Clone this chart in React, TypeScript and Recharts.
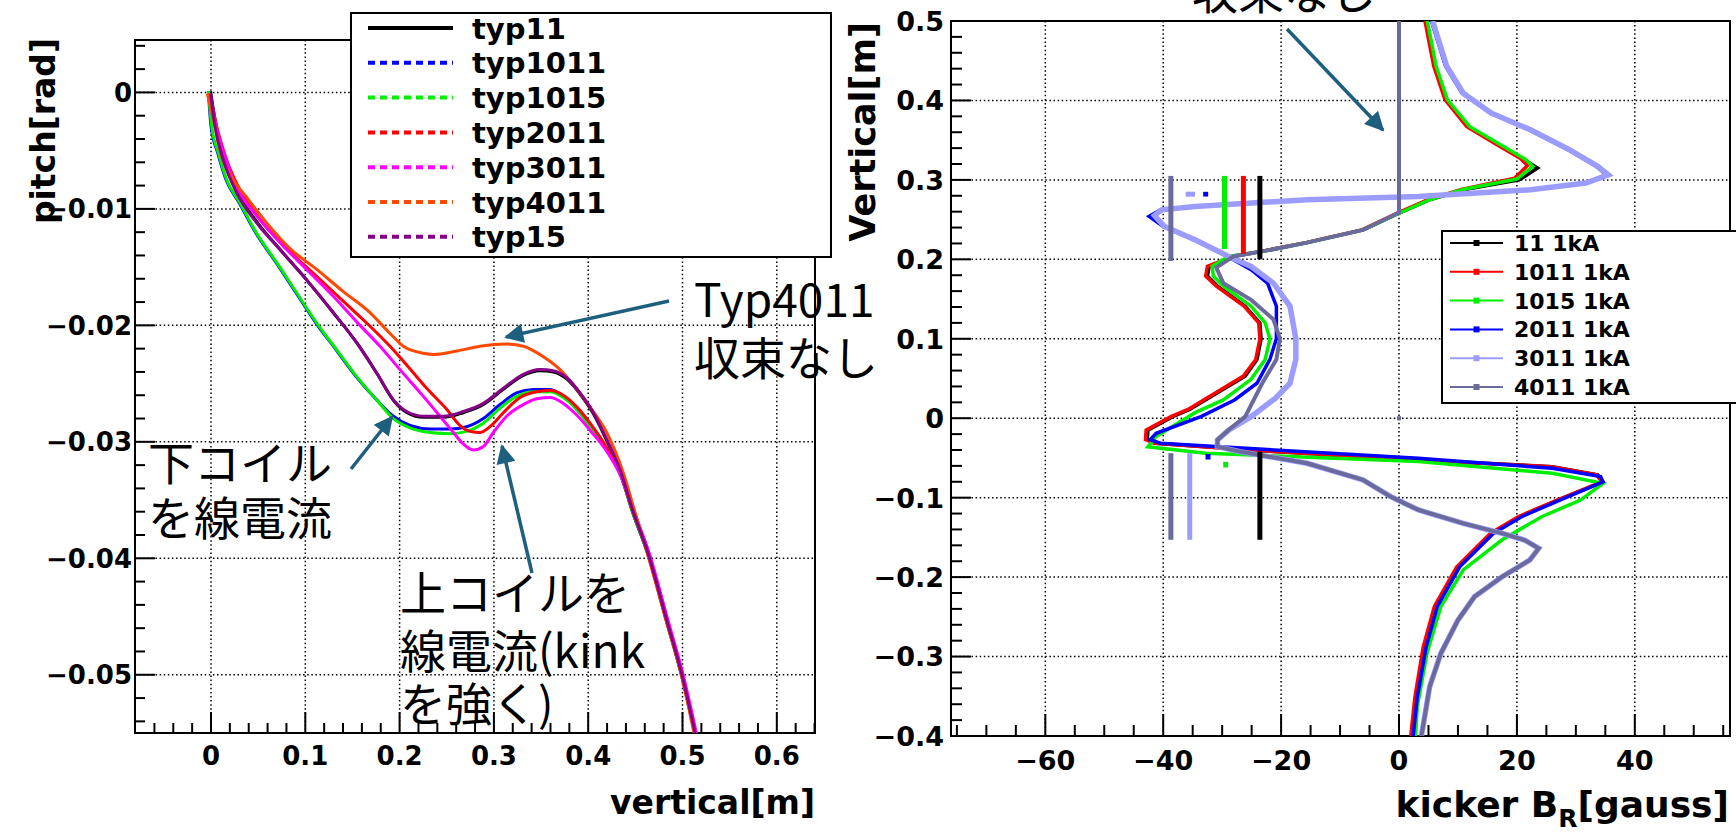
import React from 'react';
import { LineChart, Line, XAxis, YAxis, CartesianGrid, ReferenceArea, Legend } from 'recharts';

type P = [number, number];

// ---------------- LEFT CHART: pitch[rad] vs vertical[m] ----------------
const L_TYP11: P[] = [[-0.0005,0.0001],[0.0055,-0.0029],[0.0145,-0.0058],[0.0285,-0.0086],[0.0495,-0.0112],[0.0745,-0.0136],[0.1025,-0.0162],[0.1305,-0.019],[0.1555,-0.0216],[0.1765,-0.0242],[0.194,-0.0265],[0.208,-0.0275],[0.2255,-0.0279],[0.2465,-0.0279],[0.2675,-0.0275],[0.289,-0.0268],[0.31,-0.0255],[0.3312,-0.0243],[0.349,-0.0239],[0.363,-0.024],[0.3772,-0.0246],[0.3913,-0.0259],[0.4055,-0.0276],[0.4196,-0.0299],[0.4337,-0.0325],[0.447,-0.036],[0.463,-0.0396],[0.483,-0.0454],[0.4995,-0.0502],[0.5145,-0.0555]];
const L_TYP1011: P[] = [[-0.0028,0.0001],[0,-0.0029],[0.0071,-0.0052],[0.0159,-0.0075],[0.03,-0.0095],[0.0477,-0.0121],[0.0689,-0.0146],[0.0901,-0.0172],[0.1113,-0.0198],[0.1326,-0.0221],[0.1538,-0.0244],[0.1757,-0.0264],[0.1934,-0.0278],[0.211,-0.0286],[0.2322,-0.0289],[0.2535,-0.0289],[0.2711,-0.0287],[0.2888,-0.028],[0.3065,-0.0268],[0.3241,-0.0258],[0.3418,-0.0255],[0.3595,-0.0255],[0.3736,-0.0261],[0.3878,-0.0272],[0.4019,-0.0286],[0.4196,-0.0307],[0.4337,-0.0327],[0.447,-0.036],[0.463,-0.0395],[0.483,-0.0453],[0.4993,-0.0501],[0.5143,-0.0555]];
const L_TYP1015: P[] = [[-0.0028,0.0001],[0.0007,-0.0029],[0.0078,-0.0052],[0.0166,-0.0075],[0.0308,-0.0095],[0.0484,-0.0121],[0.0696,-0.0146],[0.0908,-0.0172],[0.1121,-0.0198],[0.1333,-0.0221],[0.1545,-0.0244],[0.1757,-0.0264],[0.1934,-0.028],[0.211,-0.0288],[0.2322,-0.0292],[0.2535,-0.0293],[0.2711,-0.0291],[0.2888,-0.0284],[0.3065,-0.0271],[0.3241,-0.0261],[0.3418,-0.0257],[0.3595,-0.0257],[0.3736,-0.0262],[0.3878,-0.0272],[0.4019,-0.0287],[0.4196,-0.0307],[0.4337,-0.0327],[0.447,-0.036],[0.463,-0.0395],[0.483,-0.0453],[0.4993,-0.0501],[0.5143,-0.0555]];
const L_TYP2011: P[] = [[-0.0011,-0.0001],[0.006,-0.0029],[0.0166,-0.0058],[0.0308,-0.0084],[0.052,-0.0109],[0.0802,-0.0134],[0.1121,-0.0158],[0.1439,-0.0182],[0.1651,-0.0198],[0.1898,-0.0218],[0.2075,-0.0234],[0.2287,-0.0254],[0.2499,-0.0272],[0.2641,-0.0286],[0.2747,-0.0291],[0.2853,-0.0292],[0.2959,-0.0287],[0.31,-0.0275],[0.3277,-0.0262],[0.3454,-0.0257],[0.3595,-0.0256],[0.3736,-0.026],[0.3878,-0.027],[0.4019,-0.0284],[0.4196,-0.0305],[0.4337,-0.0327],[0.4475,-0.036],[0.4635,-0.0395],[0.4835,-0.0453],[0.4998,-0.0501],[0.5148,-0.0555]];
const L_TYP3011: P[] = [[-0.0011,-0.0001],[0.0053,-0.0029],[0.0148,-0.0055],[0.0272,-0.0081],[0.0484,-0.0106],[0.0732,-0.0129],[0.1014,-0.0152],[0.1297,-0.0175],[0.1545,-0.0197],[0.1792,-0.0218],[0.2004,-0.0238],[0.2252,-0.0261],[0.2428,-0.0278],[0.257,-0.0292],[0.2676,-0.0302],[0.2782,-0.0307],[0.2888,-0.0304],[0.2994,-0.0292],[0.3135,-0.0278],[0.3312,-0.0268],[0.3454,-0.0263],[0.3595,-0.0262],[0.3736,-0.0267],[0.3878,-0.0277],[0.4019,-0.029],[0.4196,-0.0308],[0.4337,-0.0328],[0.4485,-0.036],[0.4645,-0.0395],[0.4845,-0.0453],[0.501,-0.0501],[0.516,-0.0555]];
const L_TYP4011: P[] = [[-0.0039,-0.0001],[0.0025,-0.0023],[0.0113,-0.0055],[0.0237,-0.0075],[0.0396,-0.0092],[0.059,-0.0112],[0.0838,-0.0134],[0.1121,-0.0152],[0.1403,-0.0171],[0.1686,-0.0189],[0.1898,-0.0207],[0.204,-0.0218],[0.2252,-0.0224],[0.2358,-0.0225],[0.2605,-0.0222],[0.2853,-0.0218],[0.3135,-0.0216],[0.3312,-0.0218],[0.3524,-0.0227],[0.3701,-0.0238],[0.3842,-0.0251],[0.4019,-0.027],[0.4196,-0.0292],[0.4373,-0.0327],[0.4495,-0.036],[0.4625,-0.0395],[0.4825,-0.0453],[0.499,-0.0501],[0.5135,-0.0555]];
const L_TYP15: P[] = [[-0.0004,-0.0001],[0.0042,-0.0029],[0.0131,-0.0058],[0.0272,-0.0086],[0.0484,-0.0112],[0.0732,-0.0135],[0.1014,-0.0161],[0.1297,-0.0189],[0.1545,-0.0215],[0.1757,-0.0241],[0.1934,-0.0264],[0.2075,-0.0274],[0.2252,-0.0278],[0.2464,-0.0278],[0.2676,-0.0274],[0.2888,-0.0267],[0.31,-0.0254],[0.3312,-0.0242],[0.3489,-0.0238],[0.363,-0.0239],[0.3772,-0.0245],[0.3913,-0.0258],[0.4055,-0.0275],[0.4196,-0.0298],[0.4337,-0.0324],[0.447,-0.0358],[0.4632,-0.0395],[0.4832,-0.0453],[0.4997,-0.0501],[0.5147,-0.0555]];

const LEFT_NAMES = ['typ11', 'typ1011', 'typ1015', 'typ2011', 'typ3011', 'typ4011', 'typ15'];
const LEFT_COLORS = ['#000000', '#0000ff', '#00ee00', '#ff0000', '#ff00ff', '#ff4800', '#880088'];
const LEFT_DATA = [L_TYP11, L_TYP1011, L_TYP1015, L_TYP2011, L_TYP3011, L_TYP4011, L_TYP15];

const LEFT_X_DOMAIN: [number, number] = [-0.0806, 0.6405];
const LEFT_Y_DOMAIN: [number, number] = [-0.055, 0.0045];
const LEFT_X_MAJOR = [0, 0.1, 0.2, 0.3, 0.4, 0.5, 0.6];
const LEFT_X_LABELS = ['0', '0.1', '0.2', '0.3', '0.4', '0.5', '0.6'];
const LEFT_Y_MAJOR = [0, -0.01, -0.02, -0.03, -0.04, -0.05];
const LEFT_Y_LABELS = ['0', '\u22120.01', '\u22120.02', '\u22120.03', '\u22120.04', '\u22120.05'];

// ---------------- RIGHT CHART: Vertical[m] vs kicker B_R[gauss] ----------------
const R_11: P[] = [[4.6,0.5],[6.1,0.443],[8.0,0.401],[11.8,0.367],[16.5,0.346],[21.3,0.325],[23.5,0.315],[20.4,0.3],[10.9,0.2875],[5.2,0.275],[0,0.258],[-6.1,0.237],[-15.6,0.221],[-23.2,0.21],[-28.0,0.204],[-30.8,0.1956],[-32.2,0.1914],[-32.5,0.179],[-30.8,0.1663],[-26.1,0.141],[-23.6,0.12],[-23.4,0.1],[-24.1,0.074],[-26.1,0.053],[-30.8,0.032],[-35.5,0.011],[-38.4,0.002],[-42.6,-0.015],[-42.7,-0.027],[-41.2,-0.0315],[-25.1,-0.04],[3.3,-0.0525],[26.0,-0.061],[33.7,-0.0714],[34.6,-0.08],[27.0,-0.103],[20.4,-0.124],[15.7,-0.145],[10.0,-0.187],[6.2,-0.237],[4.3,-0.288],[2.9,-0.351],[2.2,-0.4]];
const R_1011: P[] = [[4.4,0.5],[5.9,0.443],[7.8,0.401],[11.5,0.367],[16.2,0.346],[20.6,0.327],[21.8,0.318],[19.6,0.302],[10.6,0.288],[5.0,0.2755],[0,0.259],[-6.3,0.237],[-15.8,0.221],[-23.4,0.21],[-28.2,0.204],[-31.0,0.1956],[-32.5,0.1914],[-32.8,0.179],[-31.0,0.1663],[-26.3,0.141],[-23.8,0.12],[-23.6,0.1],[-24.3,0.074],[-26.4,0.053],[-31.1,0.032],[-35.8,0.011],[-38.7,0.002],[-42.9,-0.015],[-43.0,-0.027],[-41.5,-0.0315],[-25.3,-0.04],[3.1,-0.0525],[25.8,-0.061],[33.5,-0.0714],[34.4,-0.08],[26.8,-0.103],[20.2,-0.124],[15.5,-0.145],[9.8,-0.187],[6.0,-0.237],[4.1,-0.288],[2.7,-0.351],[2.0,-0.4]];
const R_1015: P[] = [[4.8,0.5],[6.3,0.443],[8.2,0.401],[12.0,0.367],[16.8,0.346],[21.4,0.326],[22.7,0.317],[20.0,0.301],[10.8,0.288],[5.2,0.275],[0,0.258],[-6.1,0.237],[-15.6,0.221],[-23.2,0.21],[-28.9,0.2036],[-31.7,0.1914],[-31.5,0.179],[-29.8,0.1663],[-25.1,0.141],[-22.7,0.12],[-21.9,0.1],[-22.7,0.074],[-25.1,0.049],[-29.8,0.023],[-34.6,0.007],[-41.2,-0.023],[-42.6,-0.036],[-32.8,-0.0441],[3.3,-0.0546],[26.0,-0.0693],[34.6,-0.082],[30.8,-0.103],[24.2,-0.124],[17.5,-0.153],[10.9,-0.191],[7.1,-0.237],[4.75,-0.296],[3.1,-0.363],[2.8,-0.4]];
const R_2011: P[] = [[5.5,0.5],[7.9,0.443],[10.7,0.409],[15.5,0.384],[22.1,0.363],[28.7,0.338],[33.5,0.317],[35.2,0.3064],[31.5,0.296],[22.1,0.2875],[3.1,0.279],[-15.8,0.275],[-34.8,0.2665],[-40.5,0.2623],[-42.4,0.254],[-40.0,0.2414],[-34.8,0.2246],[-29.1,0.2036],[-25.1,0.187],[-22.3,0.17],[-20.8,0.141],[-20.8,0.1],[-21.9,0.074],[-24.1,0.044],[-27.9,0.023],[-33.6,0.002],[-41.2,-0.019],[-42.2,-0.027],[-40.5,-0.0315],[3.3,-0.0504],[26.0,-0.063],[34.2,-0.0735],[34.6,-0.08],[27.3,-0.103],[20.8,-0.124],[16.0,-0.145],[10.3,-0.187],[6.5,-0.237],[4.6,-0.288],[3.1,-0.351],[2.4,-0.4]];
const R_3011: P[] = [[5.7,0.5],[8.1,0.443],[10.9,0.409],[15.7,0.384],[22.3,0.363],[28.9,0.338],[33.7,0.317],[35.5,0.3064],[31.7,0.296],[22.3,0.2875],[3.3,0.279],[-15.6,0.275],[-34.6,0.2665],[-40.3,0.2623],[-41.5,0.255],[-39.8,0.2414],[-34.6,0.2246],[-28.9,0.2036],[-25.1,0.191],[-21.3,0.17],[-18.5,0.141],[-17.5,0.1],[-17.5,0.074],[-18.5,0.044],[-21.0,0.025],[-25.1,0.002],[-28.9,-0.015],[-30.8,-0.0273],[-30.8,-0.0357],[-27.0,-0.042],[-15.6,-0.0567],[-6.1,-0.0777],[-1.4,-0.0987],[3.3,-0.1155],[10.9,-0.1323],[17.5,-0.145],[21.3,-0.1533],[23.7,-0.1638],[22.2,-0.1785],[17.5,-0.1995],[12.8,-0.2247],[10.0,-0.2541],[7.1,-0.296],[5.2,-0.338],[3.8,-0.4]];
const R_4011: P[] = [[0,0.5],[0,0.259],[-6.1,0.237],[-15.6,0.221],[-23.2,0.21],[-28.0,0.204],[-31.0,0.1896],[-29.8,0.17],[-25.1,0.149],[-21.3,0.1243],[-20.2,0.1],[-20.8,0.074],[-23.2,0.044],[-26.1,0.002],[-28.9,-0.0147],[-30.8,-0.0273],[-30.8,-0.0357],[-27.0,-0.042],[-15.6,-0.0567],[-6.1,-0.0777],[-1.4,-0.0987],[3.3,-0.1155],[10.9,-0.1323],[17.5,-0.145],[21.3,-0.1533],[23.7,-0.1638],[22.2,-0.1785],[17.5,-0.1995],[12.8,-0.2247],[10.0,-0.2541],[7.1,-0.296],[5.2,-0.338],[3.8,-0.4]];

// short vertical bars and small marks (each: [B, vertical])
const BAR_4011_UP: P[] = [[-38.7,0.305],[-38.7,0.198]];
const BAR_1015_UP: P[] = [[-29.6,0.305],[-29.6,0.213]];
const BAR_1011_UP: P[] = [[-26.4,0.305],[-26.4,0.207]];
const BAR_11_UP: P[] = [[-23.6,0.305],[-23.6,0.2]];
const BAR_4011_LO: P[] = [[-38.7,-0.044],[-38.7,-0.153]];
const BAR_3011_LO: P[] = [[-35.5,-0.044],[-35.5,-0.153]];
const BAR_11_LO: P[] = [[-23.6,-0.042],[-23.6,-0.153]];
const MARK_3011_UP: P[] = [[-36.2,0.282],[-34.6,0.282]];
const MARK_2011_UP: P[] = [[-32.8,0.285],[-32.8,0.279]];
const MARK_2011_LO: P[] = [[-32.4,-0.045],[-32.4,-0.052]];
const MARK_1015_LO: P[] = [[-29.4,-0.055],[-29.4,-0.062]];
const MARK_4011_ZERO: P[] = [[-0.35,0.0],[0.35,0.0]];

const RIGHT_NAMES = ['11 1kA', '1011 1kA', '1015 1kA', '2011 1kA', '3011 1kA', '4011 1kA'];
const RIGHT_COLORS = ['#000000', '#ff0000', '#00ee00', '#0000ff', '#9c9cff', '#6a6a9c'];
const RIGHT_WIDTHS = [3.5, 3.5, 3.5, 3.5, 5.5, 4];
const RIGHT_DATA = [R_11, R_1011, R_1015, R_2011, R_3011, R_4011];

const RIGHT_EXTRAS: { pts: P[]; color: string; w: number }[] = [
  { pts: BAR_11_UP, color: '#000000', w: 5 },
  { pts: BAR_11_LO, color: '#000000', w: 5 },
  { pts: BAR_1011_UP, color: '#ff0000', w: 5 },
  { pts: BAR_1015_UP, color: '#00ee00', w: 5 },
  { pts: MARK_1015_LO, color: '#00ee00', w: 5 },
  { pts: MARK_2011_UP, color: '#0000ff', w: 5 },
  { pts: MARK_2011_LO, color: '#0000ff', w: 5 },
  { pts: MARK_3011_UP, color: '#9c9cff', w: 5 },
  { pts: BAR_3011_LO, color: '#9c9cff', w: 5 },
  { pts: BAR_4011_UP, color: '#6a6a9c', w: 5 },
  { pts: BAR_4011_LO, color: '#6a6a9c', w: 5 },
  { pts: MARK_4011_ZERO, color: '#6a6a9c', w: 4 },
];

const RIGHT_X_DOMAIN: [number, number] = [-76, 56.15];
const RIGHT_Y_DOMAIN: [number, number] = [-0.4, 0.5];
const RIGHT_X_MAJOR = [-60, -40, -20, 0, 20, 40];
const RIGHT_X_LABELS = ['\u221260', '\u221240', '\u221220', '0', '20', '40'];
const RIGHT_Y_MAJOR = [0.5, 0.4, 0.3, 0.2, 0.1, 0, -0.1, -0.2, -0.3, -0.4];
const RIGHT_Y_LABELS = ['0.5', '0.4', '0.3', '0.2', '0.1', '0', '\u22120.1', '\u22120.2', '\u22120.3', '\u22120.4'];

// tick helpers (major + minor tick positions)
const range = (a: number, b: number, step: number) => {
  const out: number[] = [];
  const n = Math.round((b - a) / step);
  for (let i = 0; i <= n; i++) out.push(+(a + i * step).toFixed(6));
  return out;
};
const LEFT_X_TICKS = range(-0.06, 0.64, 0.02);
const LEFT_Y_TICKS = range(-0.054, 0.004, 0.002);
const RIGHT_X_TICKS = range(-75, 55, 5);
const RIGHT_Y_TICKS = range(-0.4, 0.5, 0.02);

const AXIS_FONT = '"DejaVu Sans", "Liberation Sans", Arial, sans-serif';
const JP_FONT = '"Noto Sans CJK JP", "Noto Sans", sans-serif';
const ARROW = '#1f5f7e';

const toXY = (pts: P[]) => pts.map(([x, y]) => ({ x, y }));
const toBV = (pts: P[]) => pts.map(([b, v]) => ({ b, v }));

const labelFor = (majors: number[], labels: string[], v: number) => {
  const i = majors.findIndex((m) => Math.abs(m - v) < 1e-7);
  return i >= 0 ? labels[i] : null;
};

const makeYTick = (majors: number[], labels: string[], fs: number, gap: number, maj: number, min: number) =>
  (props: any) => {
    const { x, y, payload } = props;
    const lab = labelFor(majors, labels, payload.value);
    return (
      <g>
        <line x1={x} y1={y} x2={x + (lab !== null ? maj : min)} y2={y} stroke="#000" strokeWidth={2} />
        {lab !== null && (
          <text x={x - gap} y={y} dy={fs * 0.365} textAnchor="end" fontFamily={AXIS_FONT} fontWeight="bold" fontSize={fs} fill="#000">
            {lab}
          </text>
        )}
      </g>
    );
  };

const makeXTick = (majors: number[], labels: string[], fs: number, gap: number, maj: number, min: number) =>
  (props: any) => {
    const { x, y, payload } = props;
    const lab = labelFor(majors, labels, payload.value);
    return (
      <g>
        <line x1={x} y1={y} x2={x} y2={y - (lab !== null ? maj : min)} stroke="#000" strokeWidth={2} />
        {lab !== null && (
          <text x={x} y={y + gap} textAnchor="middle" fontFamily={AXIS_FONT} fontWeight="bold" fontSize={fs} fill="#000">
            {lab}
          </text>
        )}
      </g>
    );
  };

const LeftLegend = () => (
  <svg width={484} height={248} style={{ display: 'block' }}>
    <rect x={1} y={1} width={480} height={244} fill="#fff" stroke="#000" strokeWidth={2} />
    {LEFT_NAMES.map((n, i) => {
      const cy = 16 + i * 34.8;
      return (
        <g key={n}>
          <line x1={18} y1={cy} x2={103} y2={cy} stroke={LEFT_COLORS[i]} strokeWidth={4} strokeDasharray={i === 0 ? undefined : '7 5'} />
          <text x={122} y={cy} dy={10.5} fontFamily={AXIS_FONT} fontWeight="bold" fontSize={29} fill="#000">{n}</text>
        </g>
      );
    })}
  </svg>
);

const RightLegend = () => (
  <svg width={330} height={176} style={{ display: 'block' }}>
    <rect x={1} y={1} width={340} height={172} fill="#fff" stroke="#000" strokeWidth={2} />
    {RIGHT_NAMES.map((n, i) => {
      const cy = 13 + i * 28.8;
      return (
        <g key={n}>
          <line x1={9} y1={cy} x2={62} y2={cy} stroke={RIGHT_COLORS[i]} strokeWidth={2} />
          <rect x={32.5} y={cy - 3} width={6} height={6} fill={RIGHT_COLORS[i]} />
          <text x={73} y={cy} dy={8} fontFamily={AXIS_FONT} fontWeight="bold" fontSize={22} fill="#000">{n}</text>
        </g>
      );
    })}
  </svg>
);

const Overlay = () => (
  <svg width={1736} height={837} style={{ position: 'absolute', left: 0, top: 0, pointerEvents: 'none' }}>
    <defs>
      <marker id="ah" viewBox="0 0 10 10" refX="9" refY="5" markerWidth="6.5" markerHeight="5.5" orient="auto" markerUnits="strokeWidth">
        <path d="M0,0 L10,5 L0,10 z" fill={ARROW} />
      </marker>
    </defs>
    {/* axis titles */}
    <text transform="translate(55,38) rotate(-90)" textAnchor="end" fontFamily={AXIS_FONT} fontWeight="bold" fontSize={33} fill="#000">pitch[rad]</text>
    <text x={815} y={814} textAnchor="end" fontFamily={AXIS_FONT} fontWeight="bold" fontSize={33} fill="#000">vertical[m]</text>
    <text transform="translate(875,22) rotate(-90)" textAnchor="end" fontFamily={AXIS_FONT} fontWeight="bold" fontSize={35} fill="#000">Vertical[m]</text>
    <text x={1729} y={817} textAnchor="end" fontFamily={AXIS_FONT} fontWeight="bold" fontSize={36} fill="#000">
      kicker B<tspan dy={10} fontSize={25}>R</tspan><tspan dy={-10}>[gauss]</tspan>
    </text>
    {/* annotations */}
    <g fontFamily={JP_FONT} fontSize={46} fill="#000">
      <text x={694} y={317}>Typ4011</text>
      <text x={694} y={375}>収束なし</text>
      <text x={148} y={480}>下コイル</text>
      <text x={148} y={535}>を線電流</text>
      <text x={400} y={610}>上コイルを</text>
      <text x={400} y={668}>線電流(kink</text>
      <text x={400} y={721}>を強く)</text>
      <text x={1192} y={9}>収束なし</text>
    </g>
    <g stroke={ARROW} strokeWidth={3.5} markerEnd="url(#ah)">
      <line x1={669} y1={301} x2={506} y2={337} />
      <line x1={351} y1={469} x2={392} y2={417} />
      <line x1={532} y1={573} x2={502} y2={446} />
      <line x1={1287} y1={29} x2={1383} y2={130} />
    </g>
  </svg>
);

export default function App() {
  return (
    <div style={{ position: 'absolute', left: 0, top: 0, width: 1736, height: 837, overflow: 'hidden', background: '#fff' }}>
      <div style={{ position: 'absolute', left: 0, top: 0 }}>
        <LineChart width={845} height={837} margin={{ top: 40, right: 30, bottom: 0, left: 0 }}>
          <CartesianGrid horizontalValues={LEFT_Y_MAJOR} verticalValues={LEFT_X_MAJOR} stroke="#000" strokeWidth={1.5} strokeDasharray="1.5 2.6" />
          <XAxis type="number" dataKey="x" domain={LEFT_X_DOMAIN} allowDataOverflow ticks={LEFT_X_TICKS} interval={0}
            height={104} axisLine={false} tickLine={false} tickSize={0} tickMargin={0}
            tick={makeXTick(LEFT_X_MAJOR, LEFT_X_LABELS, 26, 31.5, 21, 10)} />
          <YAxis type="number" domain={LEFT_Y_DOMAIN} allowDataOverflow ticks={LEFT_Y_TICKS} interval={0}
            width={135} axisLine={false} tickLine={false} tickSize={0} tickMargin={0}
            tick={makeYTick(LEFT_Y_MAJOR, LEFT_Y_LABELS, 26, 3, 20, 10)} />
          {LEFT_DATA.map((d, i) => (
            <Line key={LEFT_NAMES[i]} name={LEFT_NAMES[i]} data={toXY(d)} dataKey="y" type="monotone"
              stroke={LEFT_COLORS[i]} strokeWidth={3} dot={false} activeDot={false} isAnimationActive={false} />
          ))}
          <ReferenceArea x1={LEFT_X_DOMAIN[0]} x2={LEFT_X_DOMAIN[1]} y1={LEFT_Y_DOMAIN[0]} y2={LEFT_Y_DOMAIN[1]}
            fill="none" fillOpacity={0} stroke="#000" strokeWidth={2} />
          <Legend layout="vertical" align="center" verticalAlign="middle" content={() => <LeftLegend />}
            wrapperStyle={{ position: 'absolute', left: 350, top: 12, width: 484, height: 248 }} />
        </LineChart>
      </div>
      <div style={{ position: 'absolute', left: 850, top: 0 }}>
        <LineChart width={886} height={837} margin={{ top: 21, right: 6, bottom: 0, left: 0 }}>
          <CartesianGrid horizontalValues={RIGHT_Y_MAJOR} verticalValues={RIGHT_X_MAJOR} stroke="#000" strokeWidth={1.5} strokeDasharray="1.5 2.6" />
          <XAxis type="number" dataKey="b" domain={RIGHT_X_DOMAIN} allowDataOverflow ticks={RIGHT_X_TICKS} interval={0}
            height={101} axisLine={false} tickLine={false} tickSize={0} tickMargin={0}
            tick={makeXTick(RIGHT_X_MAJOR, RIGHT_X_LABELS, 27, 34, 22, 11)} />
          <YAxis type="number" domain={RIGHT_Y_DOMAIN} allowDataOverflow ticks={RIGHT_Y_TICKS} interval={0}
            width={101} axisLine={false} tickLine={false} tickSize={0} tickMargin={0}
            tick={makeYTick(RIGHT_Y_MAJOR, RIGHT_Y_LABELS, 27, 7, 20, 11)} />
          {RIGHT_DATA.map((d, i) => (
            <Line key={RIGHT_NAMES[i]} name={RIGHT_NAMES[i]} data={toBV(d)} dataKey="v" type="linear"
              stroke={RIGHT_COLORS[i]} strokeWidth={RIGHT_WIDTHS[i]} dot={false} activeDot={false} isAnimationActive={false} />
          ))}
          {RIGHT_EXTRAS.map((e, i) => (
            <Line key={'extra' + i} data={toBV(e.pts)} dataKey="v" type="linear" legendType="none"
              stroke={e.color} strokeWidth={e.w} dot={false} activeDot={false} isAnimationActive={false} />
          ))}
          <ReferenceArea x1={RIGHT_X_DOMAIN[0]} x2={RIGHT_X_DOMAIN[1]} y1={RIGHT_Y_DOMAIN[0]} y2={RIGHT_Y_DOMAIN[1]}
            fill="none" fillOpacity={0} stroke="#000" strokeWidth={2} />
          <Legend layout="vertical" align="center" verticalAlign="middle" content={() => <RightLegend />}
            wrapperStyle={{ position: 'absolute', left: 591, top: 230, width: 330, height: 176 }} />
        </LineChart>
      </div>
      <Overlay />
    </div>
  );
}
